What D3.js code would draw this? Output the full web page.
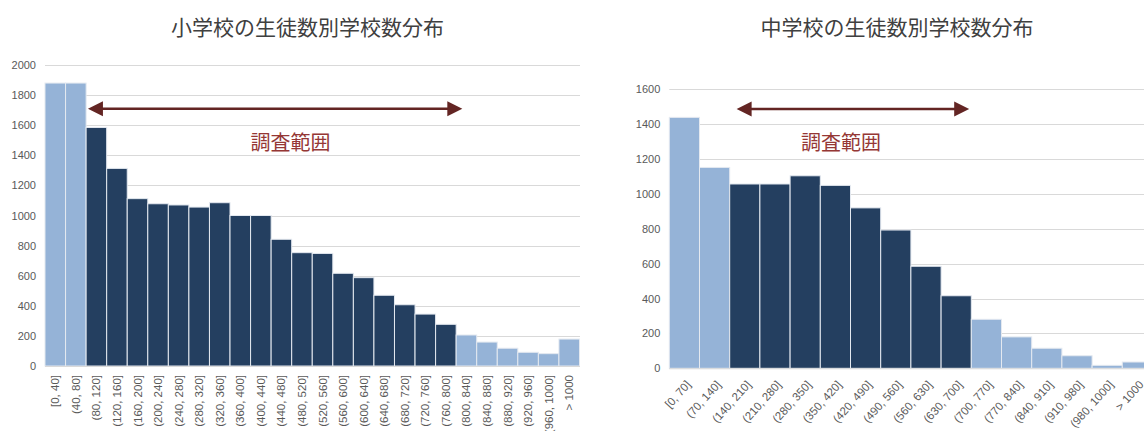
<!DOCTYPE html>
<html><head><meta charset="utf-8">
<script src="https://cdn.jsdelivr.net/npm/d3@7"></script>
<style>
html,body{margin:0;padding:0;background:#fff;}
svg{display:block;}
</style></head>
<body>
<svg id="c" width="1144" height="431"></svg>
<script>
// ---- data ----
const elemTitle = "小学校の生徒数別学校数分布";
const elemCategories = ["[0, 40]","(40, 80]","(80, 120]","(120, 160]","(160, 200]","(200, 240]","(240, 280]","(280, 320]","(320, 360]","(360, 400]","(400, 440]","(440, 480]","(480, 520]","(520, 560]","(560, 600]","(600, 640]","(640, 680]","(680, 720]","(720, 760]","(760, 800]","(800, 840]","(840, 880]","(880, 920]","(920, 960]","(960, 1000]","> 1000"];
const elemValues = [1880,1880,1585,1313,1112,1078,1070,1056,1085,1000,1000,842,753,748,616,587,470,407,345,277,206,159,118,91,82,179];
const elemSurveyed = [2,19];           // index range inside 調査範囲
const elemTicks = [0,200,400,600,800,1000,1200,1400,1600,1800,2000];

const midTitle = "中学校の生徒数別学校数分布";
const midCategories = ["[0, 70]","(70, 140]","(140, 210]","(210, 280]","(280, 350]","(350, 420]","(420, 490]","(490, 560]","(560, 630]","(630, 700]","(700, 770]","(770, 840]","(840, 910]","(910, 980]","(980, 1000]","> 1000"];
const midValues = [1439,1152,1057,1057,1104,1049,920,793,585,416,281,180,115,72,17,36];
const midSurveyed = [2,9];
const midTicks = [0,200,400,600,800,1000,1200,1400,1600];

const rangeLabel = "調査範囲";

// ---- styles ----
const DARK = "#243F60", LIGHT = "#95B3D7", GRID = "#D9D9D9", TICK = "#595959";
const ARROW = "#632523", RTEXT = "#953735";
const latin = "'Liberation Sans', Arial, sans-serif";
const cjk = "'Noto Sans CJK JP', 'Noto Sans CJK SC', sans-serif";

const svg = d3.select("#c");

function drawChart(cfg){
  const g = svg.append("g");
  const x = d3.scaleBand().domain(cfg.categories).range([cfg.left, cfg.right]).paddingInner(0).paddingOuter(0);
  const y = d3.scaleLinear().domain([0, cfg.max]).range([cfg.bottom, cfg.top]);

  // gridlines
  g.append("g").selectAll("line").data(cfg.ticks).join("line")
    .attr("x1", cfg.left).attr("x2", cfg.gridRight)
    .attr("y1", d => Math.round(y(d))+0.5).attr("y2", d => Math.round(y(d))+0.5)
    .attr("stroke", GRID).attr("stroke-width", 1);

  // y axis labels
  const ya = d3.axisLeft(y).tickValues(cfg.ticks).tickFormat(d3.format("d")).tickSize(0).tickPadding(cfg.tickPad);
  const yg = g.append("g").attr("transform", `translate(${cfg.left},0)`).call(ya);
  yg.select(".domain").remove();
  yg.attr("color", TICK);
  yg.selectAll("text").attr("fill", TICK).style("font-family", latin).style("font-size", "11px");

  // bars
  g.append("g").selectAll("rect").data(cfg.values).join("rect")
    .attr("x", (d,i) => x(cfg.categories[i]))
    .attr("width", x.bandwidth())
    .attr("y", d => y(d))
    .attr("height", d => y(0) - y(d))
    .attr("fill", (d,i) => (i >= cfg.surveyed[0] && i <= cfg.surveyed[1]) ? DARK : LIGHT)
    .attr("stroke", "#E4E9F0").attr("stroke-width", 1);

  // baseline
  g.append("line").attr("x1", cfg.left).attr("x2", cfg.gridRight)
    .attr("y1", y(0)+0.5).attr("y2", y(0)+0.5).attr("stroke", GRID);

  // x labels
  const xa = d3.axisBottom(x).tickSize(0).tickPadding(0);
  const xg = g.append("g").attr("transform", `translate(0,${cfg.bottom})`).call(xa);
  xg.select(".domain").remove();
  xg.attr("color", TICK);
  xg.selectAll("text").attr("fill", TICK).style("font-family", latin).style("font-size", cfg.xFont)
    .attr("text-anchor", "end")
    .attr("dy", "0.35em")
    .attr("y", 0)
    .attr("transform", cfg.labelTransform);

  // arrow annotation
  const ax1 = cfg.left + cfg.arrow[0]*x.step(), ax2 = cfg.left + cfg.arrow[1]*x.step();
  const ay = y(cfg.arrowY);
  const hl = 15, hh = 7.5;
  g.append("line").attr("x1", ax1+hl-2).attr("x2", ax2-hl+2).attr("y1", ay).attr("y2", ay)
    .attr("stroke", ARROW).attr("stroke-width", 2.5);
  g.append("path").attr("d", `M${ax1},${ay}L${ax1+hl},${ay-hh}L${ax1+hl},${ay+hh}Z`).attr("fill", ARROW);
  g.append("path").attr("d", `M${ax2},${ay}L${ax2-hl},${ay-hh}L${ax2-hl},${ay+hh}Z`).attr("fill", ARROW);

  g.append("text").attr("x", cfg.rangeTextX).attr("y", cfg.rangeTextY)
    .attr("text-anchor", "middle").attr("fill", RTEXT)
    .style("font-family", cjk).style("font-size", "20px").text(rangeLabel);

  // title
  g.append("text").attr("x", cfg.titleX).attr("y", 35)
    .attr("text-anchor", "middle").attr("fill", "#404040")
    .style("font-family", cjk).style("font-size", "21px").text(cfg.title);
}

drawChart({
  title: elemTitle, categories: elemCategories, values: elemValues, surveyed: elemSurveyed, ticks: elemTicks,
  max: 2000, left: 45, right: 579.5, gridRight: 580, top: 65, bottom: 366, tickPad: 9, xFont: "11.5px",
  labelTransform: "translate(0,9) rotate(-90)",
  arrow: [2.09, 20.3], arrowY: 1710, rangeTextX: 290.5, rangeTextY: 150, titleX: 307.5
});

drawChart({
  title: midTitle, categories: midCategories, values: midValues, surveyed: midSurveyed, ticks: midTicks,
  max: 1600, left: 669.3, right: 1152.5, gridRight: 1144, top: 89.3, bottom: 368.3, tickPad: 9, xFont: "11.5px",
  labelTransform: "translate(4,14) rotate(-48)",
  arrow: [2.23, 9.93], arrowY: 1487, rangeTextX: 841, rangeTextY: 150, titleX: 897
});
</script>
</body></html>
